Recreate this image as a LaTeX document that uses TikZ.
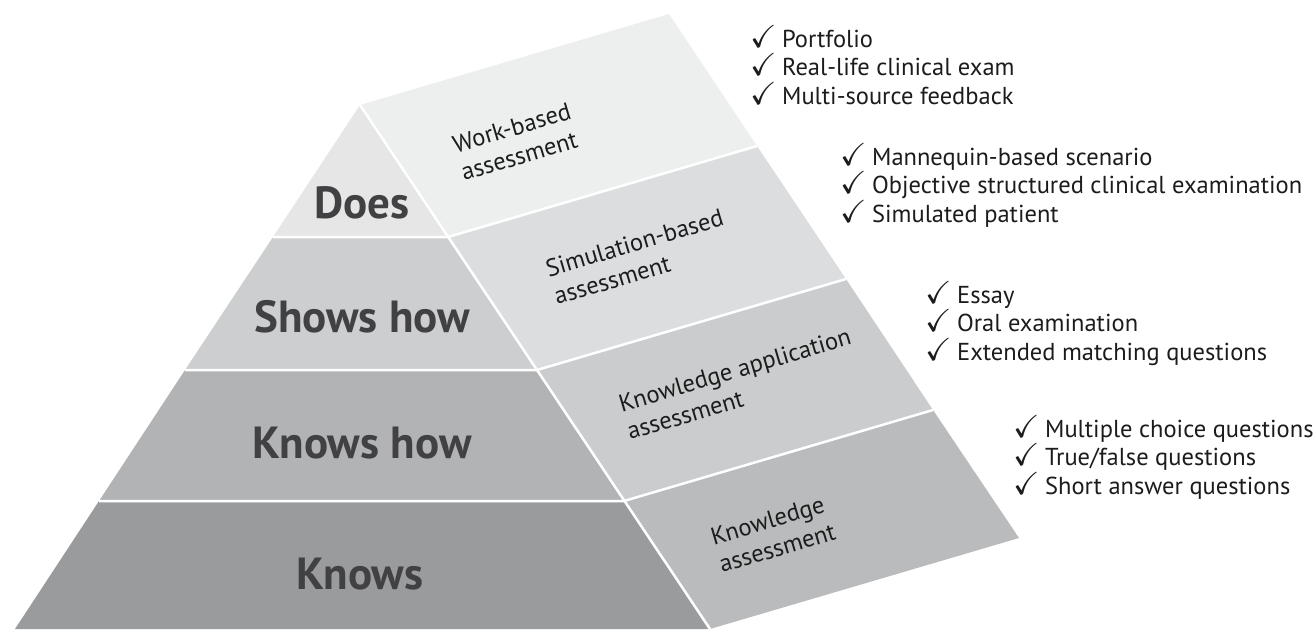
\documentclass[tikz,border=0pt]{standalone}
\usepackage{fontspec}
\usepackage{amssymb}
\usepackage{graphicx}
\usetikzlibrary{calc}
\setmainfont{PT Sans}
\newcommand\tick{\scalebox{1.3}{$\checkmark$}\hspace{0.22em}}
\definecolor{lvlDoes}{HTML}{E6E6E7}
\definecolor{lvlShows}{HTML}{CDCECF}
\definecolor{lvlKnowsHow}{HTML}{B2B3B5}
\definecolor{lvlKnows}{HTML}{9A9B9D}
\definecolor{sideWork}{HTML}{EDEEEE}
\definecolor{sideSim}{HTML}{DCDDDF}
\definecolor{sideApp}{HTML}{CBCCCD}
\definecolor{sideKnow}{HTML}{BABBBC}
\definecolor{labelgray}{HTML}{414143}
\definecolor{listtext}{HTML}{1C1C1C}
\begin{document}
\begin{tikzpicture}[x=1pt,y=-1pt,
  sep/.style={draw=white, line width=2.5pt, line join=round},
  level/.style={font=\fontsize{45}{48}\selectfont\bfseries, text=labelgray, anchor=base, inner sep=0pt},
  facelabel/.style={font=\fontsize{24.5}{29}\selectfont, text=listtext, rotate=16.5, align=left, anchor=base west, inner sep=0pt},
  checklist/.style={font=\fontsize{24.5}{28.5}\selectfont, text=listtext, align=left, anchor=base west, inner sep=0pt}]
\useasboundingbox (0,0) rectangle (1316,629);

% front face: apex, ridge points and left edge points
\coordinate (A)  at (360,105);
\coordinate (R1) at (448,237);
\coordinate (R2) at (537,370);
\coordinate (R3) at (624,501);
\coordinate (R4) at (710,629);
\coordinate (L1) at (273,237);
\coordinate (L2) at (185,370);
\coordinate (L3) at (99,501);
\coordinate (L4) at (15,629);
% side face: ridge shifted back
\foreach \p in {A,R1,R2,R3,R4}
  \coordinate (\p s) at ($(\p)+(309,-91)$);

% front layers
\fill[lvlDoes]     (A) -- (L1) -- (R1) -- cycle;
\fill[lvlShows]    (L1) -- (L2) -- (R2) -- (R1) -- cycle;
\fill[lvlKnowsHow] (L2) -- (L3) -- (R3) -- (R2) -- cycle;
\fill[lvlKnows]    (L3) -- (L4) -- (R4) -- (R3) -- cycle;
% side strips
\fill[sideWork] (A) -- (R1) -- (R1s) -- (As) -- cycle;
\fill[sideSim]  (R1) -- (R2) -- (R2s) -- (R1s) -- cycle;
\fill[sideApp]  (R2) -- (R3) -- (R3s) -- (R2s) -- cycle;
\fill[sideKnow] (R3) -- (R4) -- (R4s) -- (R3s) -- cycle;

% white separators
\draw[sep] (L1) -- (R1) -- (R1s);
\draw[sep] (L2) -- (R2) -- (R2s);
\draw[sep] (L3) -- (R3) -- (R3s);
\draw[sep] (A) -- (R4);

% level names
\node[level] (does)     at (362,218) {Does};
\node[level] (showshow) at (362,332) {Shows how};
\node[level] (knowshow) at (362,458) {Knows how};
\node[level] (knows)    at (360,589) {Knows};

% assessment types on the side face (anchored at the start of the last line)
\node[facelabel] (work) at (464,181) {Work-based\\assessment};
\node[facelabel] (sim)  at (557,305) {Simulation-based\\assessment};
\node[facelabel] (app)  at (630,440) {Knowledge application\\assessment};
\node[facelabel] (know) at (722,573) {Knowledge\\assessment};

% assessment methods (anchored at the last baseline)
\node[checklist] (m1) at (750,104)  {\tick Portfolio\\\tick Real-life clinical exam\\\tick Multi-source feedback};
\node[checklist] (m2) at (840,222) {\tick Mannequin-based scenario\\\tick Objective structured clinical examination\\\tick Simulated patient};
\node[checklist] (m3) at (925,360) {\tick Essay\\\tick Oral examination\\\tick Extended matching questions};
\node[checklist] (m4) at (1013,494) {\tick Multiple choice questions\\\tick True/false questions\\\tick Short answer questions};
\end{tikzpicture}
\end{document}
